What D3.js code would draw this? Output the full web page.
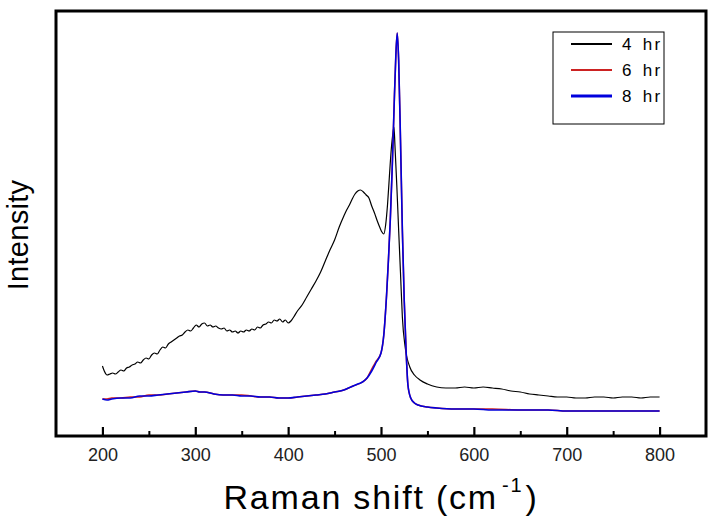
<!DOCTYPE html>
<html><head><meta charset="utf-8">
<script src="https://cdn.jsdelivr.net/npm/d3@7"></script>
<style>
body{margin:0;background:#fff;}
text{font-family:"Liberation Sans",Arial,sans-serif;}
</style></head>
<body><svg id="c" width="722" height="527"></svg>
<script>
// Raman shift (cm^-1) and intensity (arbitrary units)
const series4hrX = [200,202,205,208,211,214,217,220,223,226,229,232,235,238,241,244,247,250,253,256,259,262,265,268,271,274,277,280,283,286,289,292,295,298,301,304,307,310,313,316,319,322,325,328,331,334,337,340,343,346,349,352,355,358,361,364,367,370,373,376,379,382,385,388,391,394,397,400,403,406,410,415,420,425,430,435,440,445,450,455,460,463,466,469,472,475,478,481,484,487,490,493,496,499,501,503,505,507,509,511,513,514,515,517,519,521,523,526,531,536,542,550,560,570,580,590,600,610,620,630,640,650,660,670,680,690,700,710,720,730,740,750,760,770,780,790,800];
const series4hrY = [69,64,60,61,62,61,63,65,64,67,68,70,71,73,72,75,77,76,80,82,81,85,88,87,91,93,95,97,99,100,103,105,104,107,110,108,111,112,109,110,108,109,107,106,107,104,105,103,104,102,104,103,105,104,106,105,108,107,110,111,113,112,115,114,116,113,115,112,114,118,124,130,138,146,154,163,174,185,195,208,219,225,230,236,241,244,245,243,240,237,229,222,214,207,203,201,210,230,258,285,303,308,290,250,205,162,118,88,68,60,55,51,48,47,47,48,47,48,47,46,44,43,41,40,39,38,38,37,37,38,38,37,38,38,37,38,38];

const series6hrX = [200,205,210,220,230,240,250,260,270,280,290,300,305,310,320,330,340,350,360,370,380,390,400,410,420,430,440,450,460,470,480,485,490,495,500,503,506,508,510,512,514,516,517.5,519,521,523,525,527,529,532,536,540,550,560,580,600,620,650,680,700,720,750,780,800];
const series6hrY = [36,36,37,37,38,38,40,40,41,42,43,44,43,43,41,40,40,40,39,38,38,37,37,38,39,40,41,43,45,49,53,57,66,74,82,100,140,175,215,265,325,380,402,375,295,205,135,85,50,37,32,30,28,27,26,26,26,25,25,24,24,24,24,24];

const series8hrX = [200,205,210,220,230,240,250,260,270,280,290,300,305,310,320,330,340,350,360,370,380,390,400,410,420,430,440,450,460,465,470,475,480,485,490,495,500,503,506,508,510,512,514,516,517.5,519,521,523,525,527,529,532,536,540,550,560,580,600,620,650,680,700,720,750,780,800];
const series8hrY = [36,35,36,37,37,39,39,40,41,42,43,44,43,43,41,40,40,39,39,38,38,37,37,38,39,40,41,43,45,47,49,51,53,57,64,73,82,100,140,175,215,265,325,380,402,375,295,205,135,85,50,37,32,30,28,27,26,26,25,25,25,24,24,24,24,24];

const seriesNames = ["4 hr","6 hr","8 hr"];
const seriesColors = ["#000000","#cc2222","#0000dd"];
const xMajorTicks = [200,300,400,500,600,700,800];
const xMinorTicks = [250,350,450,550,650,750];

const svg = d3.select("#c");
const L=56, R=706, T=11, B=436;
const x = d3.scaleLinear().domain([150,850]).range([L,R]);
const y = d3.scaleLinear().domain([0,424]).range([435,11]);

const line = d3.line().curve(d3.curveMonotoneX).x(d=>x(d[0])).y(d=>y(d[1]));
const zip = (a,b)=>a.map((v,i)=>[v,b[i]]);
const data = [zip(series4hrX,series4hrY), zip(series6hrX,series6hrY), zip(series8hrX,series8hrY)];
const widths=[1.2,1.5,1.6];

svg.append("defs").append("clipPath").attr("id","cp").append("rect")
  .attr("x",L).attr("y",T).attr("width",R-L).attr("height",B-T);
const g = svg.append("g").attr("clip-path","url(#cp)");
[0,1,2].forEach(i=>{
  g.append("path").datum(data[i]).attr("d",line).attr("fill","none")
   .attr("stroke",seriesColors[i]).attr("stroke-width",widths[i]).attr("stroke-linejoin","round");
});

// x axis major
const ax = svg.append("g").attr("transform",`translate(0,${B})`)
  .call(d3.axisBottom(x).tickValues(xMajorTicks).tickSizeInner(-9).tickSizeOuter(0).tickPadding(12));
ax.select(".domain").remove();
ax.selectAll(".tick line").attr("stroke","#000").attr("stroke-width",2.2);
ax.selectAll(".tick text").attr("font-size",18).attr("fill","#222");
const axm = svg.append("g").attr("transform",`translate(0,${B})`)
  .call(d3.axisBottom(x).tickValues(xMinorTicks).tickSizeInner(-5).tickSizeOuter(0).tickFormat(""));
axm.select(".domain").remove();
axm.selectAll(".tick line").attr("stroke","#000").attr("stroke-width",2);

// frame
svg.append("rect").attr("x",L).attr("y",T).attr("width",R-L).attr("height",B-T)
  .attr("fill","none").attr("stroke","#000").attr("stroke-width",3);

// axis titles
const xt = svg.append("text").attr("x",381).attr("y",509).attr("text-anchor","middle")
  .attr("font-size",34).attr("letter-spacing",1.8).attr("fill","#000");
xt.append("tspan").text("Raman shift (cm");
xt.append("tspan").attr("font-size",20).attr("dy",-17).attr("dx",4).text("-1");
xt.append("tspan").attr("dy",17).attr("dx",2).text(")");

svg.append("text").attr("transform","translate(28,235) rotate(-90)").attr("text-anchor","middle")
  .attr("font-size",29).attr("letter-spacing",0.3).attr("fill","#000").text("Intensity");

// legend
const lg = svg.append("g");
lg.append("rect").attr("x",553).attr("y",32).attr("width",111).attr("height",92)
  .attr("fill","#fff").attr("stroke","#000").attr("stroke-width",1);
seriesNames.forEach((n,i)=>{
  const yy = 44+i*26;
  lg.append("line").attr("x1",571).attr("x2",612).attr("y1",yy).attr("y2",yy)
    .attr("stroke",seriesColors[i]).attr("stroke-width",i==2?3:2);
  lg.append("text").attr("x",622).attr("y",yy).attr("dy","0.36em").attr("font-size",17)
    .attr("letter-spacing",2.3).attr("word-spacing",2).attr("fill","#000").text(n);
});
</script></body></html>
